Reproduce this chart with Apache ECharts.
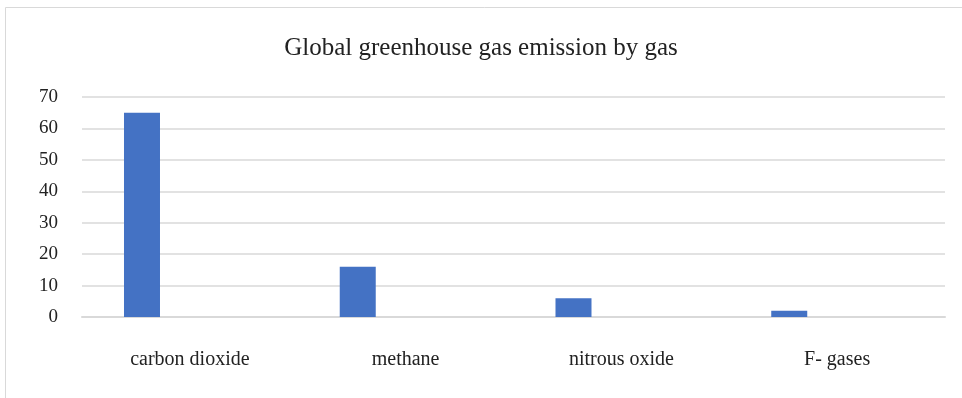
<!DOCTYPE html>
<html>
<head>
<meta charset="utf-8">
<script src="https://cdn.jsdelivr.net/npm/echarts@6/dist/echarts.min.js"></script>
<style>
html,body{margin:0;padding:0;background:#fff;}
#chart{width:962px;height:398px;}
</style>
</head>
<body>
<div id="chart"></div>
<script>
// Emission share by gas (percent)
const categories = ['carbon dioxide', 'methane', 'nitrous oxide', 'F- gases'];
const emissionValues = [65, 16, 6, 2];
const emptySeriesA = [null, null, null, null];
const emptySeriesB = [null, null, null, null];
const yTicks = [0, 10, 20, 30, 40, 50, 60, 70];

const font = '"Liberation Serif", "Times New Roman", serif';
const chart = echarts.init(document.getElementById('chart'));

chart.setOption({
  animation: false,
  title: {
    text: 'Global greenhouse gas emission by gas',
    left: 'center',
    top: 31,
    textStyle: { fontFamily: font, fontSize: 25, fontWeight: 'normal', color: '#222' }
  },
  graphic: [{
    type: 'rect',
    shape: { x: 5.5, y: 7.5, width: 970, height: 400 },
    style: { fill: 'none', stroke: '#d9d9d9', lineWidth: 1 },
    silent: true
  }],
  grid: { left: 82, right: 17, top: 97, bottom: 81 },
  xAxis: {
    type: 'category',
    data: categories,
    axisTick: { show: false },
    axisLine: { lineStyle: { color: '#d9d9d9', width: 2 } },
    axisLabel: { fontFamily: font, fontSize: 20, color: '#222', margin: 33 }
  },
  yAxis: {
    type: 'value',
    min: yTicks[0],
    max: yTicks[yTicks.length - 1],
    interval: 10,
    axisLine: { show: false },
    axisTick: { show: false },
    splitLine: { lineStyle: { color: '#d9d9d9', width: 1.5 } },
    axisLabel: { fontFamily: font, fontSize: 19, color: '#222', margin: 24 }
  },
  series: [
    { name: 'Series1', type: 'bar', data: emissionValues, barWidth: 36, barGap: '33%',
      itemStyle: { color: '#4472c4' } },
    { name: 'Series2', type: 'bar', data: emptySeriesA, barWidth: 36, barGap: '33%' },
    { name: 'Series3', type: 'bar', data: emptySeriesB, barWidth: 36, barGap: '33%' }
  ]
});
</script>
</body>
</html>
